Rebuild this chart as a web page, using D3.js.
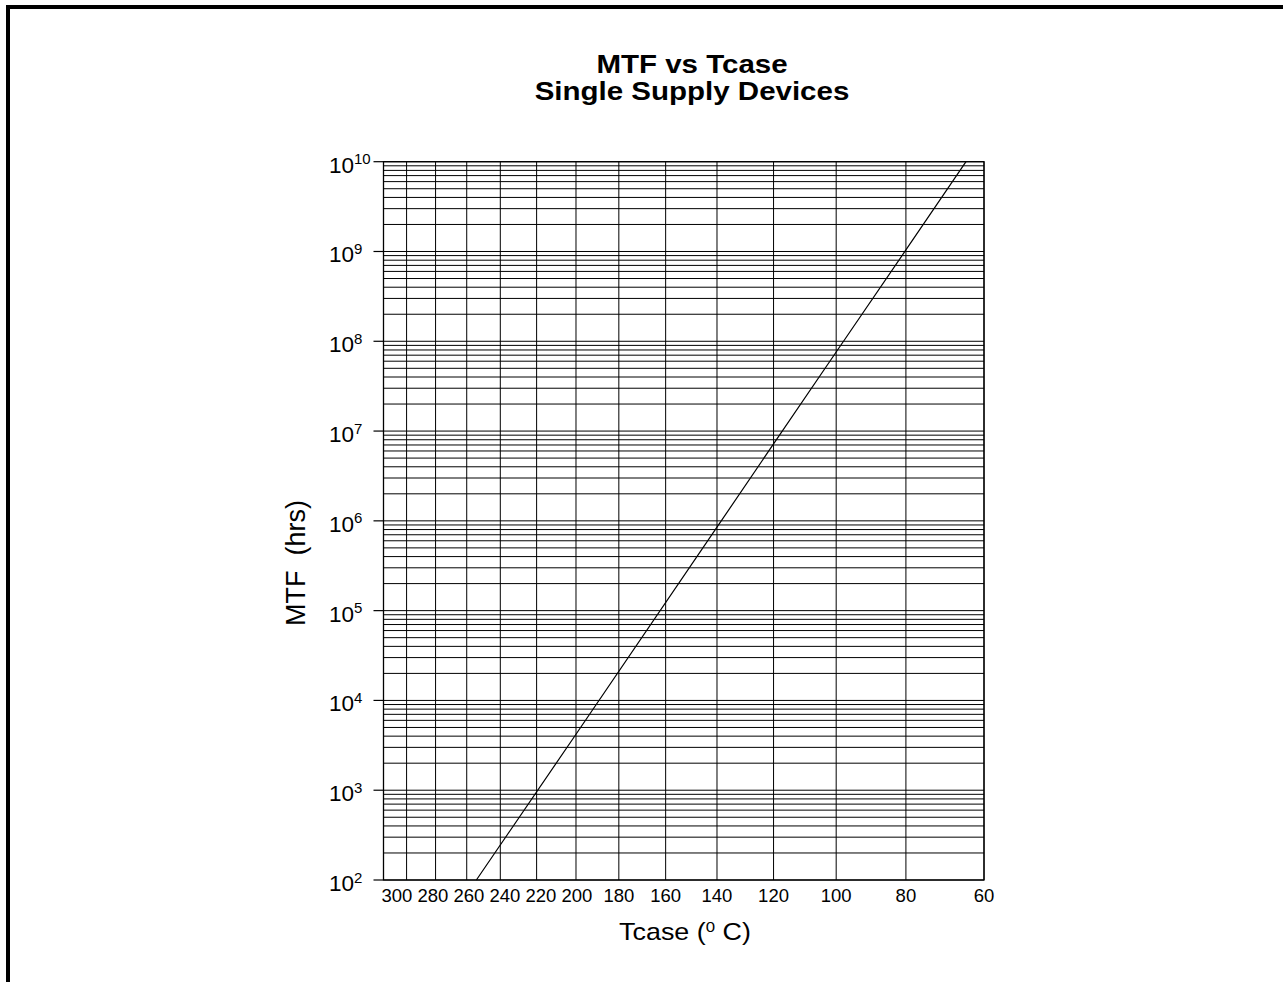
<!DOCTYPE html>
<html>
<head>
<meta charset="utf-8">
<script src="https://cdn.jsdelivr.net/npm/d3@7"></script>
<style>
  html, body { margin: 0; padding: 0; background: #fff; }
  svg { display: block; }
  text { font-family: "Liberation Sans", Arial, Helvetica, sans-serif; fill: #000; }
</style>
</head>
<body>
<svg id="chart" width="1283" height="982"></svg>
<script>
// ---- data ----
const titleLines = ["MTF vs Tcase", "Single Supply Devices"];
const xTickTemps = [300, 280, 260, 240, 220, 200, 180, 160, 140, 120, 100, 80, 60];
const xDomainTemps = [317, 60];           // Tcase (°C), axis is linear in 1/(T+273.15)
const yExponents = [2, 3, 4, 5, 6, 7, 8, 9, 10];
const minorMultipliers = [2, 3, 4, 5, 6, 7, 8, 9];
const lineTemps = [254.1, 200, 140, 120, 100, 80, 64.4];
const lineMTF   = [1e2, 4.2e3, 8.5e5, 7.2e6, 7.6e7, 1.04e9, 1e10];

// ---- layout ----
const plot = { left: 383.5, right: 984, top: 161.7, bottom: 880 };
const svg = d3.select("#chart");

// page border (left and top)
svg.append("rect").attr("x", 6).attr("y", 5).attr("width", 4).attr("height", 982).attr("fill", "#000");
svg.append("rect").attr("x", 6).attr("y", 5).attr("width", 1283).attr("height", 4).attr("fill", "#000");

const invK = t => 1 / (t + 273.15);
const xInv = d3.scaleLinear()
  .domain(xDomainTemps.map(invK))
  .range([plot.left, plot.right]);
const x = t => xInv(invK(t));
const y = d3.scaleLog().domain([1e2, 1e10]).range([plot.bottom, plot.top]);

// title (slightly wide lettering, as in the original)
titleLines.forEach((t, i) => {
  svg.append("text")
    .attr("transform", `translate(692,${73 + i * 27}) scale(1.18,1)`)
    .attr("text-anchor", "middle")
    .attr("font-size", 25).attr("font-weight", "bold")
    .text(t);
});

const g = svg.append("g");

// horizontal grid: majors and minors
const hValues = [];
yExponents.forEach(e => {
  hValues.push(Math.pow(10, e));
  if (e < 10) minorMultipliers.forEach(m => hValues.push(m * Math.pow(10, e)));
});
g.selectAll("line.h").data(hValues).enter().append("line")
  .attr("class", "h")
  .attr("x1", plot.left).attr("x2", plot.right)
  .attr("y1", d => y(d)).attr("y2", d => y(d))
  .attr("stroke", "#000").attr("stroke-width", 1);

// vertical grid
g.selectAll("line.v").data(xTickTemps).enter().append("line")
  .attr("class", "v")
  .attr("x1", d => x(d)).attr("x2", d => x(d))
  .attr("y1", plot.top).attr("y2", plot.bottom)
  .attr("stroke", "#000").attr("stroke-width", 1);

// frame
g.append("rect")
  .attr("x", plot.left).attr("y", plot.top)
  .attr("width", plot.right - plot.left).attr("height", plot.bottom - plot.top)
  .attr("fill", "none").attr("stroke", "#000").attr("stroke-width", 1.3);

// y ticks and labels
yExponents.forEach(e => {
  const v = Math.pow(10, e);
  g.append("line")
    .attr("x1", plot.left - 10).attr("x2", plot.left)
    .attr("y1", y(v)).attr("y2", y(v))
    .attr("stroke", "#000").attr("stroke-width", 1.2);
  const t = g.append("text")
    .attr("x", 329).attr("y", y(v) + 11)
    .attr("font-size", 22.5);
  t.append("tspan").text("10");
  t.append("tspan").attr("dy", -8.5).attr("font-size", 15).text(String(e));
});

// x tick labels: start at the grid lines, then spread apart where they would collide
const minGap = 36;
const labelPos = xTickTemps.map(d => x(d));
for (let iter = 0; iter < 300; iter++) {
  for (let i = 0; i < labelPos.length - 1; i++) {
    const gap = labelPos[i + 1] - labelPos[i];
    if (gap < minGap) {
      const o = (minGap - gap) / 2;
      labelPos[i] -= o;
      labelPos[i + 1] += o;
    }
  }
}
g.selectAll("text.xt").data(xTickTemps).enter().append("text")
  .attr("class", "xt")
  .attr("x", (d, i) => labelPos[i]).attr("y", 902)
  .attr("text-anchor", "middle")
  .attr("font-size", 18.5)
  .text(d => d);

// axis titles
const xt = svg.append("text")
  .attr("transform", "translate(685,940) scale(1.12,1)")
  .attr("text-anchor", "middle")
  .attr("font-size", 24);
xt.append("tspan").text("Tcase (");
xt.append("tspan").attr("dy", -8).attr("font-size", 15).text("0");
xt.append("tspan").attr("dy", 8).text(" C)");

svg.append("text")
  .attr("transform", "translate(305,563) rotate(-90)")
  .attr("text-anchor", "middle")
  .attr("font-size", 27)
  .attr("xml:space", "preserve")
  .style("white-space", "pre")
  .text("MTF  (hrs)");

// the MTF line
const pts = lineTemps.map((t, i) => [t, lineMTF[i]]);
g.append("path")
  .datum(pts)
  .attr("fill", "none").attr("stroke", "#000").attr("stroke-width", 1.2)
  .attr("d", d3.line().x(d => x(d[0])).y(d => y(d[1])));
</script>
</body>
</html>
